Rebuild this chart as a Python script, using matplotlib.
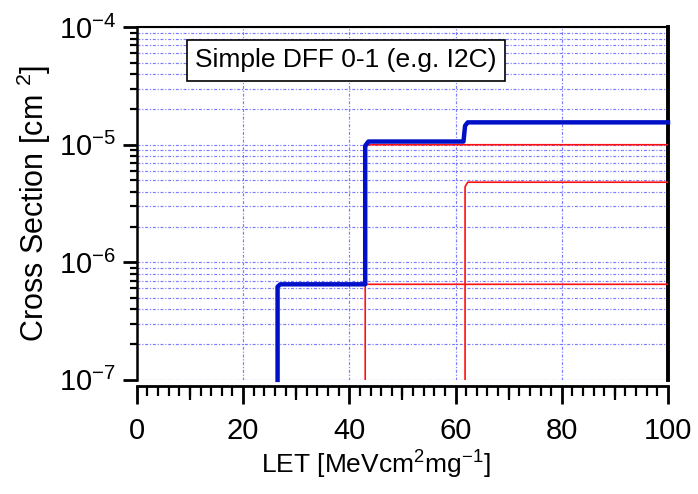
import matplotlib
matplotlib.use("Agg")
import matplotlib.pyplot as plt
from matplotlib.ticker import MultipleLocator, FixedLocator, LogLocator, NullFormatter

plt.rcParams['font.family'] = ['Liberation Sans', 'DejaVu Sans']
plt.rcParams['mathtext.default'] = 'regular'

# summed cross section (blue) and the three single-bit Weibull fits (red)
sum_let = [26.5, 26.5, 27.0, 43.0, 43.0, 43.6, 61.5, 61.8, 62.3, 100.0]
sum_xs = [1e-7, 6.2e-7, 6.5e-7, 6.5e-7, 9.8e-6, 1.065e-5, 1.065e-5, 1.45e-5, 1.55e-5, 1.55e-5]

fit1_let = [26.5, 26.5, 27.0, 100.0]
fit1_xs = [1e-7, 6.2e-7, 6.5e-7, 6.5e-7]
fit2_let = [43.0, 43.0, 43.6, 100.0]
fit2_xs = [1e-7, 9.5e-6, 1.0e-5, 1.0e-5]
fit3_let = [61.8, 61.8, 62.3, 100.0]
fit3_xs = [1e-7, 4.4e-6, 4.8e-6, 4.8e-6]

x_major = [0, 20, 40, 60, 80, 100]
x_mid = [10, 30, 50, 70, 90]

fig = plt.figure(figsize=(6.98, 4.94), dpi=100)
ax = fig.add_axes([0.196, 0.231, 0.761, 0.714])

gcol = '#5a5aff'
gls = (0, (2.5, 1.5, 1, 1.5))
ax.set_yscale('log')
ax.set_xlim(0, 100)
ax.set_ylim(1e-7, 1e-4)

ax.xaxis.set_major_locator(FixedLocator(x_major))
ax.xaxis.set_minor_locator(MultipleLocator(2))
ax.yaxis.set_major_locator(LogLocator(base=10))
ax.yaxis.set_minor_locator(LogLocator(base=10, subs=range(2, 10)))
ax.yaxis.set_minor_formatter(NullFormatter())

ax.grid(True, which='major', axis='x', color=gcol, ls=gls, lw=0.85, alpha=0.8)
ax.grid(True, which='both', axis='y', color=gcol, ls=gls, lw=0.85, alpha=0.8)
ax.set_axisbelow(True)

for xs, ys in [(fit1_let, fit1_xs), (fit2_let, fit2_xs), (fit3_let, fit3_xs)]:
    ax.plot(xs, ys, color='#ff1010', lw=1.2, zorder=3)
ax.plot(sum_let, sum_xs, color='#0010c8', lw=3.2, zorder=4, clip_on=False)

ax.spines['bottom'].set_position(('outward', 4.5))
ax.spines['bottom'].set_linewidth(2.0)
ax.spines['left'].set_linewidth(1.8)
ax.spines['top'].set_linewidth(1.5)
ax.spines['right'].set_linewidth(2.8)

ax.tick_params(axis='x', which='major', direction='out', length=13, width=2, pad=9, labelsize=21)
ax.tick_params(axis='x', which='minor', direction='out', length=7, width=1.6)
ax.tick_params(axis='y', which='major', direction='out', length=10, width=2, pad=5, labelsize=21)
ax.tick_params(axis='y', which='minor', direction='out', length=5, width=1.6)

sec = ax.secondary_xaxis(-0.0178)
sec.set_xticks(x_mid)
sec.set_xticklabels([])
sec.tick_params(direction='out', length=10, width=1.6)
sec.spines['bottom'].set_visible(False)

ax.set_xlabel(r'LET [MeVcm$^{2}$mg$^{-1}$]', fontsize=19)
ax.xaxis.set_label_coords(0.45, -0.195)
ax.set_ylabel(r'Cross Section [cm $^{2}$]', fontsize=22)
ax.yaxis.set_label_coords(-0.158, 0.5)

ax.text(0.394, 0.906, 'Simple DFF 0-1 (e.g. I2C)', transform=ax.transAxes,
        ha='center', va='center', fontsize=19,
        bbox=dict(boxstyle='square,pad=0.32', fc='white', ec='black', lw=1.2), zorder=5)

fig.savefig('out.png', dpi=100)
